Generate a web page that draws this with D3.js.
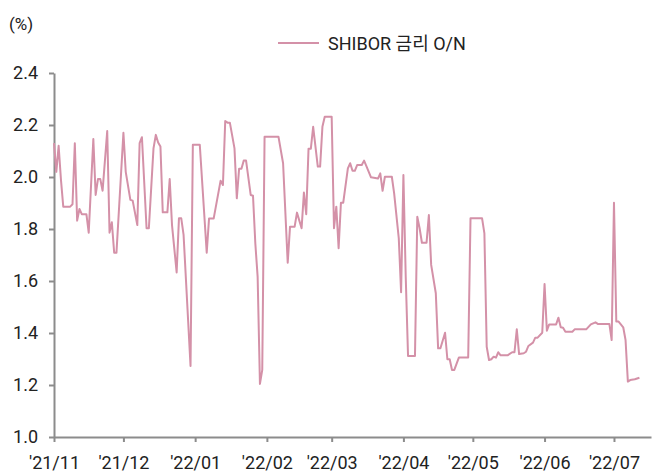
<!DOCTYPE html>
<html>
<head>
<meta charset="utf-8">
<script src="https://cdn.jsdelivr.net/npm/d3@7"></script>
<style>
  body { margin: 0; background: #fff; }
  text { font-family: Roboto, "Noto Sans CJK KR", sans-serif; fill: #222; }
</style>
</head>
<body>
<div id="chart"></div>
<script>
// SHIBOR O/N
var dates = [
    "2021-11-01","2021-11-02","2021-11-03","2021-11-04","2021-11-05","2021-11-08","2021-11-09","2021-11-10",
    "2021-11-11","2021-11-12","2021-11-13","2021-11-15","2021-11-16","2021-11-18","2021-11-19","2021-11-20",
    "2021-11-21","2021-11-22","2021-11-24","2021-11-25","2021-11-26","2021-11-27","2021-11-28","2021-12-01",
    "2021-12-02","2021-12-04","2021-12-05","2021-12-07","2021-12-08","2021-12-09","2021-12-11","2021-12-12",
    "2021-12-14","2021-12-15","2021-12-16","2021-12-17","2021-12-18","2021-12-20","2021-12-21","2021-12-22",
    "2021-12-24","2021-12-25","2021-12-26","2021-12-27","2021-12-30","2021-12-31","2022-01-03","2022-01-06",
    "2022-01-07","2022-01-09","2022-01-12","2022-01-13","2022-01-14","2022-01-15","2022-01-16","2022-01-18",
    "2022-01-19","2022-01-20","2022-01-21","2022-01-22","2022-01-23","2022-01-25","2022-01-26","2022-01-27",
    "2022-01-28","2022-01-29","2022-01-30","2022-01-31","2022-02-06","2022-02-08","2022-02-10","2022-02-11",
    "2022-02-13","2022-02-14","2022-02-16","2022-02-17","2022-02-18","2022-02-19","2022-02-20","2022-02-21",
    "2022-02-23","2022-02-24","2022-02-25","2022-02-26","2022-03-01","2022-03-02","2022-03-03","2022-03-04",
    "2022-03-05","2022-03-06","2022-03-08","2022-03-09","2022-03-10","2022-03-11","2022-03-12","2022-03-14",
    "2022-03-15","2022-03-16","2022-03-18","2022-03-21","2022-03-22","2022-03-23","2022-03-24","2022-03-27",
    "2022-03-28","2022-03-30","2022-03-31","2022-04-01","2022-04-02","2022-04-03","2022-04-06","2022-04-07",
    "2022-04-08","2022-04-09","2022-04-11","2022-04-12","2022-04-13","2022-04-15","2022-04-16","2022-04-17",
    "2022-04-19","2022-04-20","2022-04-21","2022-04-22","2022-04-23","2022-04-25","2022-04-29","2022-04-30",
    "2022-05-05","2022-05-06","2022-05-07","2022-05-08","2022-05-09","2022-05-10","2022-05-11","2022-05-12",
    "2022-05-13","2022-05-16","2022-05-18","2022-05-19","2022-05-20","2022-05-21","2022-05-23","2022-05-24",
    "2022-05-25","2022-05-27","2022-05-28","2022-05-29","2022-05-31","2022-06-01","2022-06-02","2022-06-03",
    "2022-06-06","2022-06-07","2022-06-08","2022-06-09","2022-06-10","2022-06-13","2022-06-14","2022-06-19",
    "2022-06-21","2022-06-23","2022-06-24","2022-06-29","2022-06-30","2022-07-01","2022-07-02","2022-07-03",
    "2022-07-05","2022-07-06","2022-07-07","2022-07-08","2022-07-10","2022-07-12"
];
var rates = [
    2.13,2.02,2.12,1.99,1.886,1.886,1.895,2.13,
    1.832,1.877,1.857,1.857,1.786,2.146,1.931,1.992,
    1.992,1.947,2.177,1.786,1.826,1.709,1.709,2.17,
    2.02,1.912,1.909,1.815,2.13,2.153,1.803,1.803,
    2.11,2.162,2.133,2.117,1.864,1.864,1.992,1.815,
    1.633,1.841,1.841,1.777,1.273,2.124,2.124,1.709,
    1.84,1.84,1.986,1.969,2.215,2.209,2.209,2.11,
    1.918,2.032,2.032,2.063,2.063,1.931,1.928,1.745,
    1.617,1.204,1.258,2.155,2.155,2.053,1.67,1.809,
    1.809,1.863,1.803,1.94,1.857,2.109,2.109,2.193,
    2.04,2.04,2.193,2.232,2.232,1.803,1.886,1.726,
    1.901,1.901,2.033,2.053,2.024,2.024,2.046,2.046,
    2.063,2.042,1.999,1.994,2.014,1.947,2.001,2.001,
    1.937,1.764,1.557,2.008,1.617,1.312,1.312,1.847,
    1.803,1.747,1.747,1.854,1.662,1.553,1.341,1.341,
    1.401,1.299,1.299,1.258,1.258,1.306,1.306,1.841,
    1.841,1.783,1.347,1.296,1.299,1.309,1.305,1.326,
    1.314,1.314,1.326,1.326,1.414,1.319,1.322,1.328,
    1.35,1.363,1.382,1.382,1.401,1.588,1.409,1.433,
    1.433,1.459,1.422,1.42,1.405,1.405,1.414,1.414,
    1.433,1.441,1.435,1.435,1.373,1.901,1.444,1.444,
    1.422,1.373,1.213,1.219,1.222,1.228
];
var yTicks = [1.0, 1.2, 1.4, 1.6, 1.8, 2.0, 2.2, 2.4];
var xTickDates = ["2021-11-01","2021-12-01","2022-01-01","2022-02-01","2022-03-01","2022-04-01","2022-05-01","2022-06-01","2022-07-01"];
var seriesName = "SHIBOR 금리 O/N";

var svgWidth = 653;
var svgHeight = 473;
var lineColor = "#d491a8";
var axisColor = "#8c8c8c";

var parseDate = d3.timeParse("%Y-%m-%d");
var data = dates.map((d, i) => ({date: parseDate(d), value: rates[i]}));

var svg = d3.select("#chart")
    .append("svg")
    .attr("width", svgWidth)
    .attr("height", svgHeight);

var xScale = d3.scaleTime()
    .domain([parseDate("2021-11-01"), parseDate("2022-07-17")])
    .range([54, 651]);

var yScale = d3.scaleLinear()
    .domain([1.0, 2.4])
    .range([437, 73]);

var bottomAxis = d3.axisBottom(xScale)
    .tickValues(xTickDates.map(parseDate))
    .tickFormat(d3.timeFormat("'%y/%m"))
    .tickSizeInner(5)
    .tickSizeOuter(0)
    .tickPadding(14);

var leftAxis = d3.axisLeft(yScale)
    .tickValues(yTicks)
    .tickFormat(d3.format(".1f"))
    .tickSizeInner(5)
    .tickSizeOuter(0)
    .tickPadding(11);

var xAxisG = svg.append("g")
    .attr("transform", "translate(0, 437)")
    .call(bottomAxis);

var yAxisG = svg.append("g")
    .attr("transform", "translate(54, 0)")
    .call(leftAxis);

[xAxisG, yAxisG].forEach(g => {
    g.selectAll("path, line").attr("stroke", axisColor).attr("stroke-width", 2);
    g.selectAll("text").attr("font-size", "18px").attr("fill", "#222");
});

var line = d3.line()
    .x(d => xScale(d.date))
    .y(d => yScale(d.value));

svg.append("path")
    .datum(data)
    .attr("d", line)
    .attr("fill", "none")
    .attr("stroke", lineColor)
    .attr("stroke-width", 2)
    .attr("stroke-linejoin", "round");

// unit label
svg.append("text")
    .attr("x", 9)
    .attr("y", 30)
    .attr("font-size", "17px")
    .text("(%)");

// legend
svg.append("line")
    .attr("x1", 278).attr("x2", 319)
    .attr("y1", 43).attr("y2", 43)
    .attr("stroke", lineColor)
    .attr("stroke-width", 2);

svg.append("text")
    .attr("x", 328)
    .attr("y", 50)
    .attr("font-size", "18px")
    .text(seriesName);
</script>
</body>
</html>
